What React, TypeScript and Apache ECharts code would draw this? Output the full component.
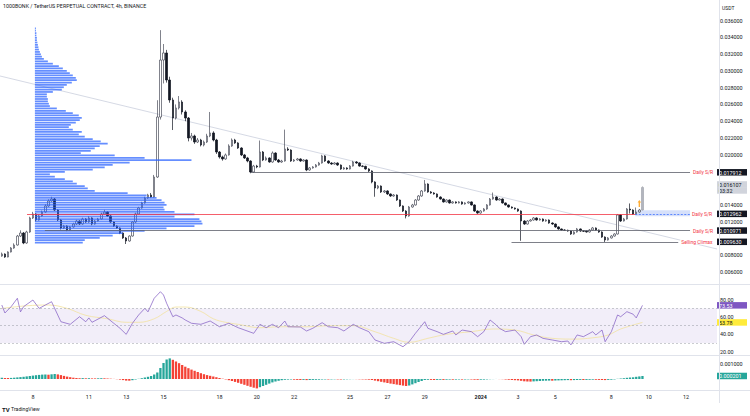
import React, { useEffect, useRef } from "react";
import * as echarts from "echarts";

// ---------- DATA ----------
// 4h candles; x = bar index counted from Dec 8 00:00 (first bar index -10)
const FIRST_INDEX = -10;
const firstOpen = 0.00794;
const closes = [
  0.00818, 0.00782, 0.00842, 0.00889, 0.00925, 0.01032, 0.01068, 0.00949, 0.0108, 0.01247,
  0.01295, 0.01223, 0.01271, 0.01318, 0.0139, 0.01449, 0.01473, 0.01342, 0.01223, 0.01128,
  0.01152, 0.01104, 0.0114, 0.01175, 0.01211, 0.01175, 0.01235, 0.01199, 0.01247, 0.01175,
  0.01211, 0.01235, 0.01295, 0.01318, 0.01271, 0.01199, 0.01152, 0.01128, 0.01068, 0.01009,
  0.00973, 0.01032, 0.01199, 0.01295, 0.01366, 0.01426, 0.01485, 0.01521, 0.01497, 0.01735,
  0.0245, 0.03129, 0.03213, 0.02891, 0.02653, 0.02438, 0.02558, 0.02629, 0.0251, 0.02438,
  0.022, 0.02224, 0.02152, 0.02176, 0.02117, 0.02152, 0.02224, 0.0226, 0.02176, 0.02033,
  0.01974, 0.0195, 0.01998, 0.02105, 0.02176, 0.02141, 0.02081, 0.01998, 0.01962, 0.01926,
  0.01795, 0.01866, 0.01855, 0.02033, 0.01938, 0.01962, 0.01914, 0.02021, 0.01938, 0.01914,
  0.01926, 0.02069, 0.02057, 0.01926, 0.01938, 0.0195, 0.01926, 0.01938, 0.01819, 0.01843,
  0.01855, 0.01878, 0.01902, 0.01986, 0.01926, 0.01902, 0.0189, 0.01902, 0.01878, 0.01831,
  0.01843, 0.01831, 0.01866, 0.01914, 0.01902, 0.01866, 0.01862, 0.01831, 0.01807, 0.01676,
  0.01604, 0.01628, 0.01557, 0.01569, 0.01533, 0.01509, 0.01521, 0.01461, 0.0139, 0.0133,
  0.01271, 0.01378, 0.01402, 0.01461, 0.01509, 0.01569, 0.01652, 0.01557, 0.01545, 0.01533,
  0.01497, 0.01473, 0.01438, 0.01461, 0.01426, 0.01438, 0.01426, 0.01438, 0.01414, 0.01426,
  0.01438, 0.01402, 0.0133, 0.01306, 0.0133, 0.01354, 0.01402, 0.01473, 0.01497, 0.01461,
  0.01473, 0.01426, 0.01402, 0.01378, 0.01366, 0.01354, 0.0133, 0.01211, 0.01175, 0.01211,
  0.01223, 0.01247, 0.01223, 0.01235, 0.01211, 0.01223, 0.01187, 0.01175, 0.0114, 0.01116,
  0.01104, 0.011, 0.01092, 0.01056, 0.0108, 0.01116, 0.01092, 0.0109, 0.0108, 0.01104,
  0.01128, 0.01104, 0.0108, 0.0102, 0.00985, 0.01009, 0.01032, 0.01056, 0.01283, 0.01211,
  0.01235, 0.01354, 0.01342, 0.01295, 0.01318, 0.01342, 0.016107,
];
const highs = [
  0.00835, 0.00826, 0.0085, 0.009, 0.00945, 0.01045, 0.011, 0.0108, 0.01095, 0.01262,
  0.0132, 0.01305, 0.01285, 0.01335, 0.0141, 0.0147, 0.015, 0.01485, 0.0135, 0.01235,
  0.01165, 0.0116, 0.0115, 0.0119, 0.01225, 0.0122, 0.0125, 0.01245, 0.0127, 0.01255,
  0.01222, 0.01248, 0.0131, 0.01345, 0.01325, 0.0128, 0.01205, 0.0116, 0.01135, 0.01075,
  0.0102, 0.0104, 0.0121, 0.0131, 0.0138, 0.0144, 0.015, 0.01535, 0.01545, 0.0176,
  0.0265, 0.03485, 0.0332, 0.0325, 0.0293, 0.0268, 0.026, 0.027, 0.0265, 0.0253,
  0.0245, 0.0226, 0.0224, 0.022, 0.0219, 0.0217, 0.0225, 0.0251, 0.0228, 0.0219,
  0.02045, 0.0199, 0.02015, 0.02125, 0.02195, 0.0219, 0.0215, 0.0209, 0.0201, 0.01975,
  0.01935, 0.0188, 0.0188, 0.0217, 0.02045, 0.0198, 0.0197, 0.0204, 0.0203, 0.0195,
  0.0194, 0.023, 0.0209, 0.02065, 0.0195, 0.01962, 0.01958, 0.01948, 0.01945, 0.01855,
  0.01865, 0.0189, 0.01915, 0.02, 0.01995, 0.01935, 0.01912, 0.01912, 0.0191, 0.01885,
  0.01855, 0.01852, 0.01878, 0.01928, 0.01925, 0.0191, 0.01875, 0.0187, 0.0184, 0.01815,
  0.01685, 0.0164, 0.01635, 0.0158, 0.01578, 0.0154, 0.01532, 0.01528, 0.01468, 0.01398,
  0.0134, 0.0139, 0.01415, 0.01472, 0.0152, 0.0158, 0.017, 0.0166, 0.01568, 0.01555,
  0.0154, 0.01505, 0.0148, 0.0147, 0.01468, 0.01448, 0.01445, 0.01448, 0.01445, 0.01435,
  0.01446, 0.01445, 0.0141, 0.01338, 0.0134, 0.01365, 0.01412, 0.01485, 0.0155, 0.01505,
  0.01485, 0.0148, 0.01432, 0.01408, 0.01385, 0.01372, 0.0136, 0.01338, 0.0122, 0.01222,
  0.01235, 0.01258, 0.01255, 0.01245, 0.01242, 0.01232, 0.0123, 0.01195, 0.01182, 0.01148,
  0.01122, 0.01112, 0.01108, 0.01098, 0.0109, 0.01128, 0.01122, 0.01102, 0.01098, 0.01115,
  0.0114, 0.01135, 0.0111, 0.01088, 0.01028, 0.0102, 0.01042, 0.01065, 0.01295, 0.0129,
  0.01248, 0.01365, 0.0142, 0.0135, 0.01372, 0.01355, 0.01625,
];
const lows = [
  0.00785, 0.00772, 0.00778, 0.00836, 0.0088, 0.00918, 0.0102, 0.00935, 0.0094, 0.0107,
  0.01235, 0.01205, 0.01215, 0.01262, 0.0131, 0.0138, 0.0144, 0.0133, 0.0121, 0.0111,
  0.01115, 0.0109, 0.01095, 0.01132, 0.01165, 0.01165, 0.01168, 0.0119, 0.0119, 0.0116,
  0.01168, 0.01205, 0.01228, 0.01288, 0.01262, 0.0119, 0.0114, 0.01118, 0.01055, 0.00998,
  0.00937, 0.00965, 0.01025, 0.0119, 0.01288, 0.01358, 0.01418, 0.01475, 0.01488, 0.0149,
  0.01725, 0.0242, 0.0285, 0.0286, 0.0262, 0.02295, 0.0242, 0.0254, 0.0248, 0.024,
  0.0216, 0.0217, 0.0213, 0.0214, 0.021, 0.021, 0.0214, 0.0221, 0.0216, 0.0201,
  0.01955, 0.0193, 0.0194, 0.0199, 0.02095, 0.0213, 0.0207, 0.01985, 0.0195, 0.0191,
  0.0178, 0.01785, 0.0184, 0.01848, 0.01925, 0.0193, 0.01905, 0.01905, 0.01928, 0.01905,
  0.01905, 0.01918, 0.02045, 0.01915, 0.01915, 0.0193, 0.01915, 0.01918, 0.01805, 0.0181,
  0.01835, 0.01848, 0.0187, 0.01895, 0.01915, 0.01892, 0.0188, 0.01882, 0.01868, 0.0182,
  0.01822, 0.01822, 0.01825, 0.0186, 0.01892, 0.01858, 0.01852, 0.01822, 0.01795, 0.0166,
  0.015, 0.0159, 0.01545, 0.01545, 0.01522, 0.01498, 0.015, 0.0145, 0.01378, 0.01318,
  0.01242, 0.01262, 0.0137, 0.01395, 0.01452, 0.015, 0.0156, 0.01548, 0.01535, 0.01525,
  0.01488, 0.01465, 0.0143, 0.0143, 0.01418, 0.01418, 0.01418, 0.0142, 0.01405, 0.01406,
  0.01418, 0.01395, 0.0132, 0.01296, 0.01298, 0.01322, 0.01345, 0.01395, 0.01465, 0.01452,
  0.01455, 0.01418, 0.01395, 0.0137, 0.01358, 0.01346, 0.0132, 0.00975, 0.01165, 0.01168,
  0.01205, 0.01215, 0.01215, 0.01215, 0.01202, 0.01202, 0.01178, 0.01165, 0.0113, 0.01108,
  0.01096, 0.01092, 0.01084, 0.01045, 0.01048, 0.01072, 0.01082, 0.0108, 0.01072, 0.01072,
  0.01096, 0.01095, 0.0107, 0.0101, 0.00961, 0.00978, 0.01002, 0.01025, 0.0105, 0.012,
  0.01205, 0.01228, 0.013, 0.01285, 0.01288, 0.0131, 0.01335,
];

const timeTickIdx = [0, 18, 30, 42, 60, 72, 84, 102, 114, 126, 144, 156, 168, 186, 198, 210];
const timeTickLabels = ["8", "11", "13", "15", "18", "20", "22", "25", "27", "29", "2024", "3", "5", "8", "10", "12"];
const priceTicks = [0.036, 0.034, 0.032, 0.03, 0.028, 0.026, 0.024, 0.022, 0.02, 0.014, 0.012, 0.008, 0.006];

// horizontal levels
const srLevel1 = 0.017912;
const srLevel2 = 0.012962;
const srLevel3 = 0.010971;
const climaxLevel = 0.00963;
const lastPrice = 0.016107;
const countdown = "03:32";
const zoneTop = 0.0134;
const zoneBottom = 0.01268;
// trend line end points [bar index, price]
const trendA = [-10.58, 0.029388];
const trendB = [219.97, 0.008775];
// order marker on the chart [bar index, price]
const orderMarker = [195, 0.0142];

// RSI (14) and its moving average
const rsiIdx = [-10, -9, -7, -5, -4, -3, 0, 2, 4, 6, 9, 12, 15, 17, 18, 19, 23, 26, 28, 30, 32, 34, 36, 37, 39, 41, 42, 43, 45, 46, 48, 49, 51, 54, 57, 60, 63, 66, 71, 73, 75, 77, 79, 81, 82, 86, 88, 90, 93, 95, 98, 100, 103, 105, 108, 110, 113, 116, 119, 121, 123, 126, 127, 130, 132, 135, 136, 138, 141, 143, 145, 147, 149, 150, 152, 155, 157, 158, 160, 162, 164, 167, 170, 172, 173, 175, 177, 180, 181, 183, 184, 186, 188, 189, 191, 193, 194, 196];
const rsiVals = [73.9, 64.7, 72, 81.7, 66, 72, 79.7, 70, 73.9, 77.7, 54.6, 51.6, 60.4, 54.6, 59, 53.9, 61.6, 52.8, 47, 40, 52.8, 62.4, 70.1, 66, 81.7, 89.3, 85.5, 75.9, 60.4, 62.4, 59, 56.6, 52.8, 51.6, 55.4, 48.8, 52.8, 47.7, 41.2, 51.6, 47.7, 51.6, 47.7, 55.4, 48.8, 48.5, 43.9, 47, 53.5, 48.8, 47.7, 43.9, 51.6, 47.7, 43.1, 33.5, 29.6, 31.5, 25.7, 31.5, 41.2, 54.6, 47, 43.1, 40, 43.9, 39.3, 45, 43.1, 37.3, 43.1, 56.6, 50.8, 47, 43.1, 45, 37.3, 28.5, 37.3, 39.3, 35.4, 33.5, 31.5, 32.3, 27.8, 39.3, 37.3, 43.1, 39.3, 45, 31.5, 43.1, 62.4, 60.4, 66.2, 63.3, 59, 73.53];
const rsiMaIdx = [-10, -2, 5, 11, 17, 24, 30, 34, 39, 43, 46, 49, 54, 58, 62, 66, 73, 80, 88, 96, 103, 110, 116, 121, 127, 133, 141, 148, 155, 161, 167, 174, 180, 185, 189, 196];
const rsiMaVals = [70, 73, 73.9, 70, 62, 58, 53.9, 53.9, 58, 66.5, 71.6, 71.6, 66.5, 58, 53.9, 51.6, 47.7, 48.8, 48.8, 50, 50, 43, 35.4, 30.8, 35.4, 40, 43.1, 46.2, 45, 39.3, 35.4, 34.5, 36, 39.3, 46.2, 53.78];
const rsiTicks = [20, 40, 60, 80];
const rsiLast = 73.53;
const rsiMaLast = 53.78;

// MACD histogram, one value per bar, in units of 1e-5 USDT
const macdHistE5 = [
  8.7, 7.3, 6.7, 7.3, 8.7, 10.7, 12.7, 14.7, 17.3, 20,
  22.7, 25.3, 27.3, 29.3, 30, 28.7, 31.3, 33.3, 30.7, 26,
  20.7, 16, 12, 8.7, 6.7, 5.3, 6, 4.7, 5.3, 4,
  4, 4.7, 5.3, 4.7, 3.3, 2, 0.7, -1.3, -4, -7.3,
  -10.7, -11.3, -8, -3.3, 1.3, 5.3, 10, 14.7, 20, 30,
  43.4, 73.4, 106.7, 130, 137.4, 128, 116.7, 105.4, 93.4, 82,
  72, 62.7, 54.7, 46.7, 38.7, 32, 26, 21.3, 16.7, 12,
  6.7, 2, -2.7, -8, -13.3, -19.3, -25.3, -32, -38.7, -45.4,
  -52, -58, -62.7, -54.7, -46.7, -38.7, -30.7, -22.7, -16.7, -12,
  -8, -5.3, -4, -3.3, -4.7, -6, -6.7, -6, -7.3, -6.7,
  -6, -5.3, -4.7, -3.3, -3, -3.3, -2.7, -2, -2.7, -3.3,
  -2.7, -2, -1.3, -0.7, -1, -2, -2.7, -3.3, -4.7, -6.7,
  -10.7, -14.7, -18.7, -22.7, -26.7, -30.7, -34, -37.4, -40.7, -44,
  -46.7, -43.4, -36, -28, -20, -13.3, -6.7, -5.3, -6, -6.7,
  -6, -5.3, -6, -4.7, -4, -4.7, -4, -3.3, -4, -3.3,
  -2.7, -3.3, -4.7, -5.3, -4.7, -4, -2.7, -1.3, -0.7, 0.3,
  -0.7, -1.3, -3.3, -5.3, -6.7, -8, -9.3, -12, -15.3, -16.7,
  -17.3, -16, -14.7, -13.3, -12, -11.3, -10.7, -11.3, -10, -9.3,
  -8.7, -8, -7.3, -8, -7.3, -6.7, -6, -6.7, -6, -5.3,
  -4.7, -5.3, -6, -6.7, -7.3, -6, -4.7, -2.7, 1.3, 3.3,
  5.3, 8, 10, 11.3, 14.7, 17.3, 20.1,
];
const macdTicks = [0.001];
const macdLast = 0.000201;

// Volume profile (visible range): rows from top price to bottom price, relative volume
const vpTop = 0.0352;
const vpBottom = 0.0094;
const vpVolumes = [
  1, 1, 1.5, 1.5, 2, 2, 2.5, 3, 3.5, 4,
  5, 6, 7, 9, 13, 18, 24, 28, 32, 35,
  38, 41, 42, 37, 32, 29, 27, 18, 12, 12,
  13, 13, 14, 15, 22, 31, 38, 44, 47, 45,
  41, 36, 34, 38, 47, 44, 50, 58, 66, 73,
  65, 60, 56, 46, 80, 110, 157, 95, 78, 70,
  58, 30, 15, 20, 30, 38, 42, 50, 53, 60,
  93, 112, 122, 127, 130, 132, 129, 130, 140, 160,
  140, 165, 167, 168, 160, 132, 110, 88, 78, 65,
  50, 48,
];

// ---------- LAYOUT / STYLE ----------
const X_MIN = -10.582;
const X_MAX = 219.97;
const PX_TO_X = 0.32066; // bar-index units per pixel (layout scale)
const VP_X0 = 0.64; // profile starts here (bar index)
const FONT = "Roboto, 'Liberation Sans', sans-serif";
const TXT = "#131722";
const FS = 5.4;

function fmtPrice(v: number) {
  return v.toFixed(6);
}

export default function App() {
  const ref = useRef<HTMLDivElement>(null);
  useEffect(() => {
    if (!ref.current) return;
    const chart = echarts.init(ref.current, null, { renderer: "svg" });

    const candleData = closes.map((c, j) => {
      const o = j === 0 ? firstOpen : closes[j - 1];
      const item: any = { value: [FIRST_INDEX + j, o, c, lows[j], highs[j]] };
      if (j === closes.length - 1) {
        item.itemStyle = { color: "#b2b5be", borderColor: "#a3a6af", color0: "#b2b5be", borderColor0: "#a3a6af" };
      }
      return item;
    });

    const n = vpVolumes.length;
    const step = (vpTop - vpBottom) / n;
    const vpData = vpVolumes.map((v, k) => [vpTop - k * step, vpTop - (k + 1) * step, v]);

    const macdData = macdHistE5.map((v, j) => {
      const prev = j === 0 ? -Infinity : macdHistE5[j - 1];
      return {
        value: [FIRST_INDEX + j, v * 1e-5],
        itemStyle: { color: v > prev ? "#26a69a" : "#f44336" },
      };
    });

    const srLine = (x0: number, x1: number, y: number, color: string, label?: string, bg?: boolean) => [
      {
        coord: [x0, y],
        lineStyle: { color, width: 0.8, type: "solid" },
        label: label
          ? {
              show: true,
              position: "end",
              formatter: label,
              color: "#f23645",
              fontSize: 5,
              fontFamily: FONT,
              distance: 2,
              backgroundColor: bg ? "#ffffff" : "transparent",
              padding: [0, 1],
            }
          : { show: false },
      },
      { coord: [x1, y] },
    ];

    const xHidden = (g: number) => ({ gridIndex: g, type: "value", min: X_MIN, max: X_MAX, show: false });
    const yRight = (g: number, min: number, max: number, ticks: number[], fmt: (v: number) => string) => ({
      gridIndex: g,
      type: "value",
      position: "right",
      min,
      max,
      axisLine: { show: false },
      axisTick: { show: false },
      splitLine: { show: false },
      axisLabel: {
        customValues: ticks,
        formatter: fmt,
        fontSize: FS,
        color: TXT,
        fontFamily: FONT,
        margin: 3,
      },
    });
    const badgeAxis = (g: number, min: number, max: number, ticks: number[], fmt: (v: number) => string, rich: any) => ({
      gridIndex: g,
      type: "value",
      position: "right",
      min,
      max,
      axisLine: { show: false },
      axisTick: { show: false },
      splitLine: { show: false },
      axisLabel: { customValues: ticks, formatter: fmt, rich, margin: 0, fontSize: FS, fontFamily: FONT },
    });

    const badgeStyle = (bg: string, fg: string) => ({
      backgroundColor: bg,
      color: fg,
      fontSize: FS,
      fontFamily: FONT,
      padding: [1, 2, 0.5, 2],
      width: 26,
      lineHeight: 6,
    });

    const option: any = {
      animation: false,
      backgroundColor: "#ffffff",
      grid: [
        { left: 0, top: 0, width: 719, height: 284 },
        { left: 0, top: 285, width: 719, height: 70 },
        { left: 0, top: 356, width: 719, height: 34 },
      ],
      xAxis: [
        xHidden(0),
        xHidden(1),
        {
          gridIndex: 2,
          type: "value",
          min: X_MIN,
          max: X_MAX,
          axisLine: { show: false },
          axisTick: { show: false },
          splitLine: { show: false },
          axisLabel: {
            customValues: timeTickIdx,
            formatter: (v: number) => {
              const t = timeTickLabels[timeTickIdx.indexOf(v)] ?? "";
              return t === "2024" ? "{b|2024}" : t;
            },
            rich: { b: { fontWeight: "bold", fontSize: FS, color: TXT, fontFamily: FONT } },
            fontSize: FS,
            color: TXT,
            fontFamily: FONT,
            margin: 4,
          },
        },
      ],
      yAxis: [
        yRight(0, 0.004604, 0.038443, priceTicks, fmtPrice),
        badgeAxis(
          0,
          0.004604,
          0.038443,
          [srLevel1, lastPrice, srLevel2, srLevel3, climaxLevel],
          (v: number) => (v === lastPrice ? `{g|${fmtPrice(v)}}\n{g|${countdown}}` : `{b|${fmtPrice(v)}}`),
          { b: badgeStyle("#131722", "#ffffff"), g: badgeStyle("#d1d4dc", "#131722") }
        ),
        yRight(1, 16.13, 97.05, rsiTicks, (v: number) => v.toFixed(2)),
        badgeAxis(
          1,
          16.13,
          97.05,
          [rsiLast, rsiMaLast],
          (v: number) => (v === rsiLast ? `{p|${v.toFixed(2)}}` : `{y|${v.toFixed(2)}}`),
          { p: badgeStyle("#7e57c2", "#ffffff"), y: badgeStyle("#ffeb3b", "#131722") }
        ),
        yRight(2, -0.000733, 0.001533, macdTicks, fmtPrice),
        badgeAxis(2, -0.000733, 0.001533, [macdLast], (v: number) => `{t|${fmtPrice(v)}}`, {
          t: badgeStyle("#26a69a", "#ffffff"),
        }),
      ],
      series: [
        {
          name: "trend",
          type: "line",
          xAxisIndex: 0,
          yAxisIndex: 0,
          data: [trendA, trendB],
          symbol: "none",
          silent: true,
          z: 1,
          lineStyle: { color: "#c3c8d8", width: 0.7 },
          markArea: {
            silent: true,
            data: [[{ coord: [193.7, zoneTop], itemStyle: { color: "#d6e0fa" } }, { coord: [211.3, zoneBottom] }]],
          },
          markLine: {
            silent: true,
            symbol: ["none", "none"],
            animation: false,
            data: [
              srLine(70, 211.3, srLevel1, "#5d606b", "Daily S/R"),
              srLine(-1.9, 193.7, srLevel2, "#f23645"),
              [
                {
                  coord: [193.7, srLevel2],
                  lineStyle: { color: "#2962ff", width: 0.7, type: [2, 1.5] },
                  label: {
                    show: true,
                    position: "end",
                    formatter: "Daily S/R",
                    color: "#f23645",
                    fontSize: 5,
                    fontFamily: FONT,
                    distance: 2,
                  },
                },
                { coord: [211.3, srLevel2] },
              ],
              srLine(3.85, 211.3, srLevel3, "#5d606b", "Daily S/R"),
              srLine(153.9, 207.5, climaxLevel, "#5d606b", "Selling Climax", true),
            ],
          },
        },
        {
          name: "candles",
          type: "candlestick",
          xAxisIndex: 0,
          yAxisIndex: 0,
          data: candleData,
          encode: { x: 0, y: [1, 2, 3, 4] },
          barWidth: 2,
          z: 2,
          itemStyle: {
            color: "#ffffff",
            color0: "#131722",
            borderColor: "#4a4e5a",
            borderColor0: "#131722",
            borderWidth: 0.7,
          },
        },
        {
          name: "order",
          type: "scatter",
          xAxisIndex: 0,
          yAxisIndex: 0,
          data: [orderMarker],
          symbol: "path://M5,0 L10,5 L7,5 L7,14 L3,14 L3,5 L0,5 Z",
          symbolSize: [3.5, 7],
          itemStyle: { color: "#ff9800" },
          z: 4,
          silent: true,
        },
        {
          name: "profile",
          type: "custom",
          xAxisIndex: 0,
          yAxisIndex: 0,
          z: 3,
          silent: true,
          data: vpData,
          renderItem: (params: any, api: any) => {
            const top = api.coord([VP_X0, api.value(0)]);
            const bot = api.coord([VP_X0, api.value(1)]);
            const w = api.size([api.value(2) * PX_TO_X, 0])[0];
            return {
              type: "rect",
              shape: { x: top[0], y: top[1] + 0.3, width: w, height: Math.max(0.5, bot[1] - top[1] - 0.6) },
              style: { fill: "rgba(41,98,255,0.72)" },
            };
          },
        },
        {
          name: "RSI",
          type: "line",
          xAxisIndex: 1,
          yAxisIndex: 2,
          data: rsiIdx.map((x, k) => [x, rsiVals[k]]),
          symbol: "none",
          z: 3,
          lineStyle: { color: "#7e57c2", width: 0.7 },
          markArea: {
            silent: true,
            itemStyle: { color: "rgba(126,87,194,0.1)" },
            data: [[{ yAxis: 70 }, { yAxis: 30 }]],
          },
          markLine: {
            silent: true,
            symbol: ["none", "none"],
            label: { show: false },
            lineStyle: { color: "#9598a1", width: 0.5, type: [2, 2] },
            data: [{ yAxis: 70 }, { yAxis: 50 }, { yAxis: 30 }],
          },
        },
        {
          name: "RSI MA",
          type: "line",
          xAxisIndex: 1,
          yAxisIndex: 2,
          data: rsiMaIdx.map((x, k) => [x, rsiMaVals[k]]),
          symbol: "none",
          smooth: 0.4,
          z: 2,
          lineStyle: { color: "#f3e2a0", width: 0.8 },
        },
        {
          name: "MACD hist",
          type: "bar",
          xAxisIndex: 2,
          yAxisIndex: 4,
          data: macdData,
          barWidth: 2.3,
        },
      ],
      graphic: [
        { type: "line", shape: { x1: 0, y1: 284.5, x2: 750, y2: 284.5 }, style: { stroke: "#e0e3eb", lineWidth: 1 }, z: 50 },
        { type: "line", shape: { x1: 0, y1: 355.5, x2: 750, y2: 355.5 }, style: { stroke: "#e0e3eb", lineWidth: 1 }, z: 50 },
        { type: "line", shape: { x1: 0, y1: 390.5, x2: 750, y2: 390.5 }, style: { stroke: "#e0e3eb", lineWidth: 1 }, z: 50 },
        { type: "line", shape: { x1: 719.5, y1: 0, x2: 719.5, y2: 403 }, style: { stroke: "#e0e3eb", lineWidth: 1 }, z: 50 },
        {
          type: "text",
          x: 3,
          y: 3,
          z: 60,
          style: { text: "1000BONK / TetherUS PERPETUAL CONTRACT, 4h, BINANCE", fontSize: 5.3, fontFamily: FONT, fill: TXT },
        },
        { type: "text", x: 722, y: 5, z: 60, style: { text: "USDT", fontSize: 5, fontFamily: FONT, fill: TXT } },
        { type: "text", x: 2, y: 406, z: 60, style: { text: "TV", fontSize: 6, fontWeight: "bold", fontFamily: FONT, fill: TXT } },
        { type: "text", x: 11, y: 406.5, z: 60, style: { text: "TradingView", fontSize: 5.2, fontFamily: FONT, fill: TXT } },
      ],
    };

    chart.setOption(option);
    return () => chart.dispose();
  }, []);

  return <div ref={ref} style={{ position: "absolute", left: 0, top: 0, width: 750, height: 416 }} />;
}
